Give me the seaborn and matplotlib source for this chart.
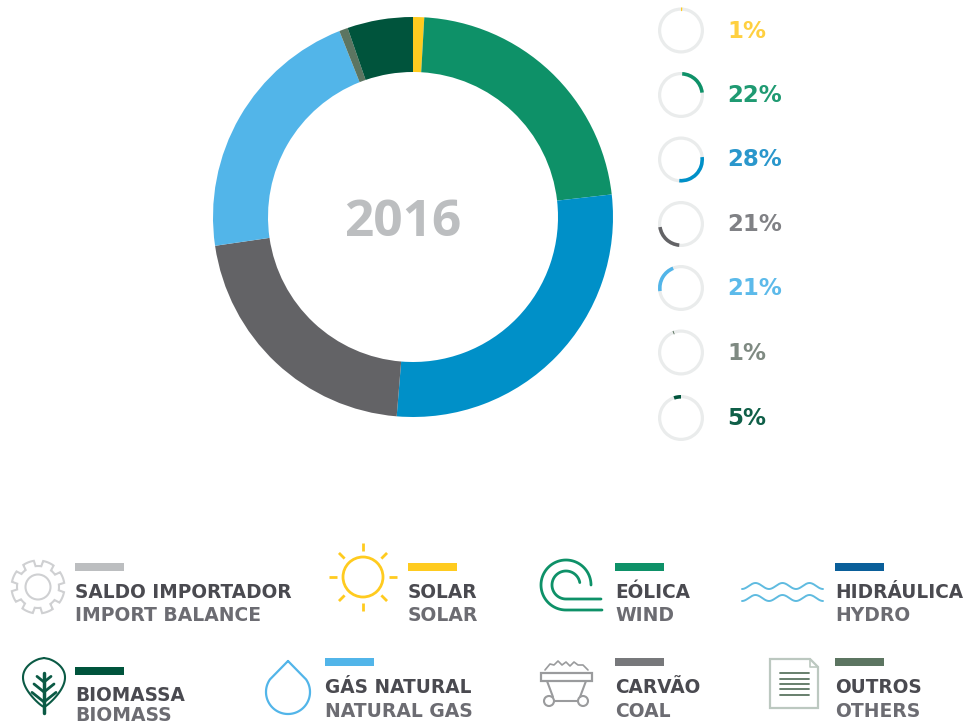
import numpy as np
import matplotlib
matplotlib.use("Agg")
import matplotlib.pyplot as plt
from matplotlib.patches import Circle, Polygon, Rectangle
import seaborn as sns

# ---- data ----
year = "2016"
sources = ["Solar", "Eólica", "Hidráulica", "Carvão", "Gás natural", "Outros", "Biomassa"]
shares = [0.9, 22.3, 28.1, 21.4, 21.3, 0.7, 5.3]
pct_labels = ["1%", "22%", "28%", "21%", "21%", "1%", "5%"]
slice_colors = ["#ffcb1f", "#0e9168", "#0090c8", "#636366", "#52b5e9", "#5c7561", "#00543c"]
pct_colors = ["#ffd040", "#1f9a72", "#2a97cc", "#808185", "#5cbaea", "#7f8a82", "#0f5f48"]

legend_pt = ["SALDO IMPORTADOR", "SOLAR", "EÓLICA", "HIDRÁULICA", "BIOMASSA", "GÁS NATURAL", "CARVÃO", "OUTROS"]
legend_en = ["IMPORT BALANCE", "SOLAR", "WIND", "HYDRO", "BIOMASS", "NATURAL GAS", "COAL", "OTHERS"]
legend_colors = ["#bcbec0", "#ffcb1f", "#0e9168", "#0a5f9a", "#00543c", "#52b5e9", "#77787b", "#5c7561"]

# ---- layout (pixels) ----
W, H = 967, 724
sns.set_theme(style="white")
plt.rcParams["font.family"] = ["DejaVu Sans"]
fig = plt.figure(figsize=(W / 100, H / 100), dpi=100, facecolor="white")


def px_axes(cx, cy, r):
    ax = fig.add_axes([(cx - r) / W, 1 - (cy + r) / H, 2 * r / W, 2 * r / H])
    ax.set_xlim(-1, 1)
    ax.set_ylim(-1, 1)
    ax.set_aspect("equal")
    ax.axis("off")
    return ax


palette = sns.color_palette(slice_colors)

# main donut
ax = px_axes(413, 217, 201)
ax.pie(shares, colors=palette, startangle=90, counterclock=False, radius=200 / 201,
       wedgeprops=dict(width=55 / 201, linewidth=0))
ax.set_xlim(-1, 1)
ax.set_ylim(-1, 1)

# mini rings
ring_y = [30.5, 95, 159.5, 224, 288, 352.5, 418]
cum = np.concatenate([[0], np.cumsum(shares)])
for i, cy in enumerate(ring_y):
    a = px_axes(681, cy, 24)
    a.pie([100], colors=["#eaecec"], radius=23 / 24, startangle=90,
          wedgeprops=dict(width=3.2 / 24, linewidth=0))
    a.pie([shares[i], 100 - shares[i]], colors=[slice_colors[i], "none"], radius=23 / 24,
          startangle=90 - cum[i] * 3.6, counterclock=False, wedgeprops=dict(width=3.6 / 24, linewidth=0))
    a.set_xlim(-1, 1)
    a.set_ylim(-1, 1)

# overlay in pixel coordinates
ov = fig.add_axes([0, 0, 1, 1], facecolor="none")
ov.set_xlim(0, W)
ov.set_ylim(H, 0)
ov.axis("off")

ov.text(403, 223, year, color="#bcbec0", fontsize=37, fontweight="bold", ha="center", va="center",
        fontfamily="Open Sans")
for lab, col, cy in zip(pct_labels, pct_colors, ring_y):
    ov.text(727, cy + 7, lab, color=col, fontsize=16.5, fontweight="bold", ha="left", va="baseline")

# legend entries: x, swatch y, label baseline, sublabel baseline
slots = [(75, 567, 598, 621), (408, 567, 598, 621), (615, 567, 598, 621), (835, 567, 598, 621),
         (75, 671, 701, 721), (325, 662, 693, 717), (615, 662, 693, 717), (835, 662, 693, 717)]
for pt, en, col, (x, sy, b1, b2) in zip(legend_pt, legend_en, legend_colors, slots):
    ov.add_patch(Rectangle((x, sy - 4), 49, 8, color=col, lw=0))
    ov.text(x, b1, pt, color="#4a4a50", fontsize=13.35, fontweight="bold", va="baseline")
    ov.text(x, b2, en, color="#6c6c72", fontsize=13.5, fontweight="bold", va="baseline")

# icons ------------------------------------------------------------
# gear
cx, cy = 38, 587
th = np.linspace(0, 2 * np.pi, 8 * 20, endpoint=False)
r = np.where(((th + np.pi / 8 + 0.2) % (np.pi / 4)) < np.pi / 8 + 0.05, 26.5, 21)
ov.add_patch(Polygon(np.c_[cx + r * np.cos(th), cy + r * np.sin(th)], closed=True, fill=False,
                     ec="#cfd0d2", lw=1.5))
ov.add_patch(Circle((cx, cy), 12.5, fill=False, ec="#cfd0d2", lw=1.5))

# sun
cx, cy = 363, 577
ov.add_patch(Circle((cx, cy), 20, fill=False, ec="#ffcb1f", lw=2))
for k in range(8):
    t = k * np.pi / 4
    ov.plot([cx + 26 * np.cos(t), cx + 34 * np.cos(t)], [cy + 26 * np.sin(t), cy + 34 * np.sin(t)],
            color="#ffcb1f", lw=2, solid_capstyle="butt")

# wind swirl
g = "#0e9168"
t = np.radians(np.linspace(90, 360, 80))
ov.plot(np.r_[602, 566 + 25 * np.cos(t)], np.r_[610, 585 + 25 * np.sin(t)], color=g, lw=2)
t = np.radians(np.linspace(90, 350, 80))
ov.plot(np.r_[601, 566 + 14 * np.cos(t)], np.r_[599, 585 + 14 * np.sin(t)], color=g, lw=2)

# waves
xw = np.linspace(742, 823, 160)
for yw in (586, 598):
    ov.plot(xw, yw - 3 * np.cos((xw - 742) / 27 * 2 * np.pi + np.pi), color="#5fbbe0", lw=1.4)

# leaf
d = "#0b5a45"
t = np.linspace(0, 1, 50)
half = 21 * np.sin(np.pi * t ** 0.75) ** 0.8
ov.plot(np.r_[44 - half, (44 + half)[::-1]], np.r_[658 + 49 * t, (658 + 49 * t)[::-1]], color=d, lw=1.5)
ov.plot([44, 44], [673, 713], color=d, lw=2.5)
for yy, s in ((682, 7), (692, 10), (702, 12)):
    ov.plot([44 - s, 44, 44 + s], [yy - s * 0.8, yy, yy - s * 0.8], color=d, lw=2)

# drop
t = np.radians(np.linspace(-35, 215, 80))
xd = 288 + 22 * np.cos(t)
yd = 692 + 22 * np.sin(t)
ov.plot(np.r_[288, xd, 288], np.r_[661, yd, 661], color="#52b5e9", lw=1.6)

# cart
c = "#9a9b9d"
ov.add_patch(Rectangle((541, 673), 51, 8, fill=False, ec=c, lw=1.6))
ov.plot([547, 553], [681, 697], color=c, lw=1.5)
ov.plot([586, 580], [681, 697], color=c, lw=1.5)
ov.plot([554, 578], [701, 701], color=c, lw=1.5)
ov.add_patch(Circle((549, 701), 5, fill=False, ec=c, lw=1.5))
ov.add_patch(Circle((583, 701), 5, fill=False, ec=c, lw=1.5))
ov.plot([545, 550, 554, 558, 562, 566, 570, 574, 578, 583, 588],
        [670, 664, 665, 661, 665, 662, 666, 662, 665, 665, 670], color=c, lw=1.2)

# document
ov.add_patch(Polygon([(770, 659), (810, 659), (818, 667), (818, 708), (770, 708)], closed=True,
                     fill=False, ec="#bcc8c0", lw=1.6))
ov.plot([810, 810, 818], [659, 667, 667], color="#bcc8c0", lw=1.2)
for yy in (673, 679, 684, 689, 695):
    ov.plot([780, 809], [yy, yy], color="#5c7561", lw=1.3)

fig.savefig("out.png", dpi=100)
